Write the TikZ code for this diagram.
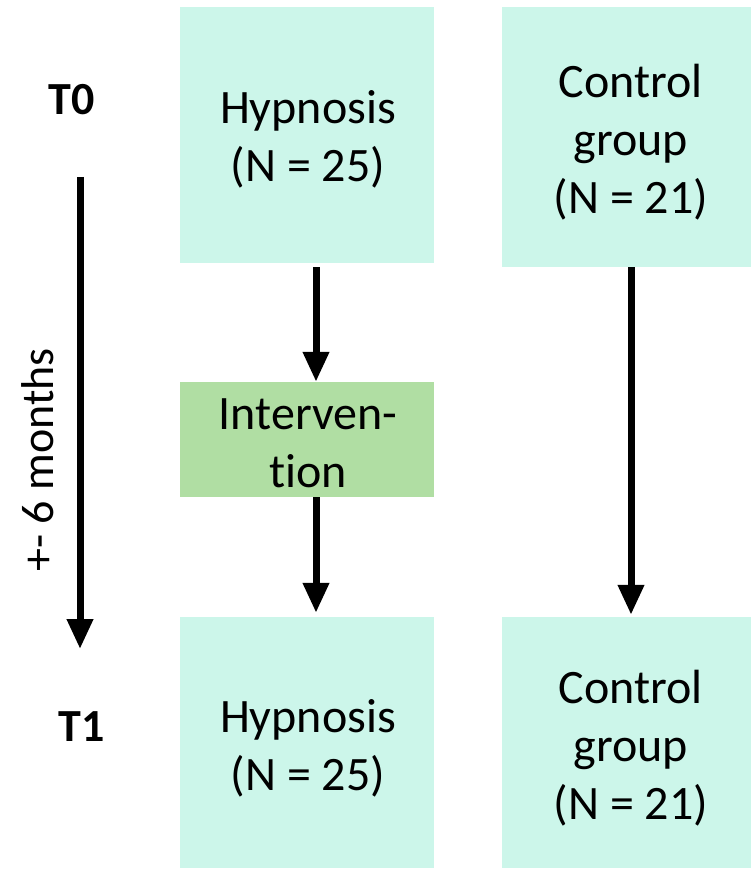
\documentclass[tikz,border=0pt]{standalone}
\usepackage{fontspec}
\setmainfont{Carlito}[Ligatures=NoCommon]
\usetikzlibrary{arrows.meta}
\definecolor{mint}{HTML}{CCF6EA}
\definecolor{leaf}{HTML}{B0DEA3}
\begin{document}
\begin{tikzpicture}[x=1pt,y=-1pt,
  groupbox/.style={fill=mint,draw=none,inner sep=0pt,align=center,
    font=\fontsize{48}{58}\selectfont},
  stagebox/.style={fill=leaf,draw=none,inner sep=0pt,align=center,
    font=\fontsize{48}{58}\selectfont},
  timelabel/.style={font=\fontsize{46}{56}\selectfont\bfseries},
  flow/.style={line width=7pt,-{Triangle[width=25pt,length=30pt]}}]
\useasboundingbox (0,0) rectangle (751,869);
% group boxes at both time points
\node[groupbox,minimum width=254pt,minimum height=256pt] (hyp0) at (307,135) {};
\node[font=\fontsize{48}{58}\selectfont,align=center] (hyp0t) at (308,139) {Hypnosis\\(N = 25)};
\node[groupbox,minimum width=249pt,minimum height=260pt] (ctl0) at (626.5,137) {};
\node[font=\fontsize{48}{58}\selectfont,align=center] (ctl0t) at (631,142) {Control\\group\\(N = 21)};
\node[stagebox,minimum width=254pt,minimum height=115pt] (int) at (307,439.5) {};
\node[font=\fontsize{48}{58}\selectfont,align=center] (intt) at (308,443) {Interven-\\tion};
\node[groupbox,minimum width=254pt,minimum height=251pt] (hyp1) at (307,742.5) {};
\node[font=\fontsize{48}{58}\selectfont,align=center] (hyp1t) at (308,748) {Hypnosis\\(N = 25)};
\node[groupbox,minimum width=249pt,minimum height=251pt] (ctl1) at (626.5,742.5) {};
\node[font=\fontsize{48}{58}\selectfont,align=center] (ctl1t) at (631,748) {Control\\group\\(N = 21)};
% time axis
\node[timelabel] (t0) at (72,100) {T0};
\node[timelabel] (t1) at (82,727) {T1};
\coordinate (axtop) at (80,177);
\coordinate (axbot) at (80,649);
\draw[flow] (axtop) -- (axbot);
\node[rotate=90,font=\fontsize{46}{54}\selectfont] (dur) at (38,460) {+- 6 months};
% connectors
\draw[flow] ([xshift=9pt,yshift=-4pt]hyp0.south) -- ([xshift=9pt]int.north);
\draw[flow] ([xshift=9pt]int.south) -- ([xshift=9pt,yshift=4pt]hyp1.north);
\draw[flow] ([xshift=4.5pt]ctl0.south) -- ([xshift=4.5pt,yshift=2pt]ctl1.north);
\end{tikzpicture}
\end{document}
